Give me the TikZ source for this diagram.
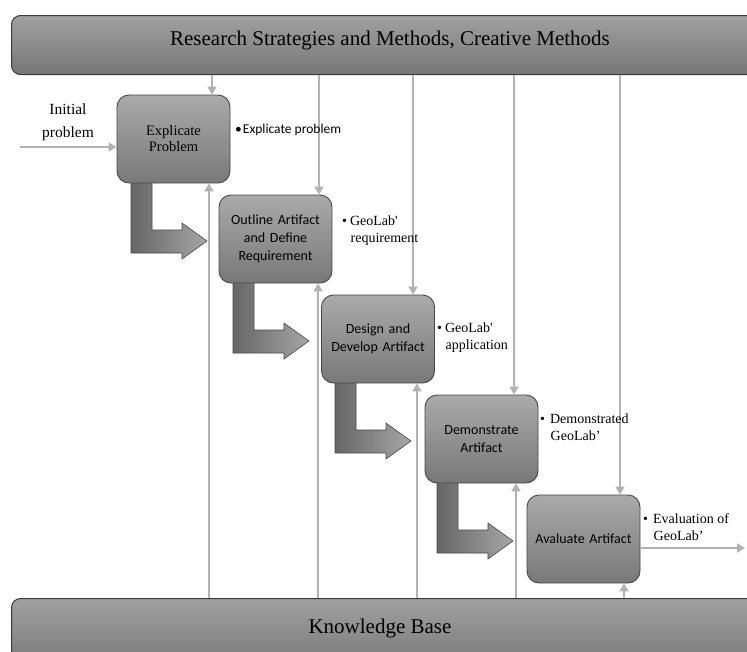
\documentclass[tikz,border=0pt]{standalone}
\usepackage{fontspec}
\setmainfont{Liberation Serif}
\newfontfamily\carlito{Carlito}
\usetikzlibrary{arrows.meta}
\definecolor{boxtop}{HTML}{AAAAAA}
\definecolor{boxbot}{HTML}{787878}
\definecolor{boxline}{HTML}{474747}
\definecolor{bartop}{HTML}{A0A0A0}
\definecolor{barbot}{HTML}{777777}
\definecolor{barline}{HTML}{3A3A3A}
\definecolor{linegray}{HTML}{B2B2B2}
\definecolor{arrL}{HTML}{666666}
\definecolor{arrR}{HTML}{A6A6A6}
\tikzset{
  conn/.style={draw=linegray, line width=2.8pt, -{Triangle[length=8pt,width=9pt]}},
  stepbox/.style={rectangle, rounded corners=12pt, draw=boxline, line width=0.9pt,
    top color=boxtop, bottom color=boxbot, minimum width=113pt, minimum height=88pt,
    inner sep=2pt, align=center, text width=108pt},
  sansbox/.style={font=\carlito\fontsize{14}{18}\selectfont},
  serifbox/.style={font=\fontsize{14.5}{16}\selectfont},
  bar/.style={rectangle, rounded corners=9pt, draw=barline, line width=1pt,
    top color=bartop, bottom color=barbot, inner sep=0pt, anchor=north west},
  bartext/.style={anchor=base, font=\fontsize{21}{24}\selectfont},
  note/.style={anchor=west, inner sep=0pt, align=left, font=\fontsize{14}{17}\selectfont},
  blockarrow/.style={left color=arrL, right color=arrR, draw=boxline, line width=0.6pt}
}
\begin{document}
\begin{tikzpicture}[x=1pt,y=-1pt]
\useasboundingbox (0,0) rectangle (747,651);
\clip (0,0) rectangle (747,651);

% bars
\node[bar, minimum width=760pt, minimum height=59pt] (top) at (11,15) {};
\node[bartext] (tt) at (390,45) {Research Strategies and Methods, Creative Methods};
\node[bar, minimum width=760pt, minimum height=72pt] (kb) at (11,598) {};
\node[bartext] (kt) at (380,633) {Knowledge Base};

% block arrows
\foreach \i in {0,1,2,3}{
  \begin{scope}[shift={(102*\i,100*\i)}]
    \path[blockarrow] (131,180) -- (152,180) -- (152,230) -- (182,230) -- (182,223)
      -- (207,241) -- (182,259) -- (182,253) -- (131,253) -- cycle;
  \end{scope}
}

% step boxes
\node[stepbox, serifbox] (b1) at (173.5,139) {Explicate\\Problem};
\node[stepbox, sansbox] (b2) at (275.5,239) {Outline Artifact\\and Define\\Requirement};
\node[stepbox, sansbox] (b3) at (378,339) {Design and\\Develop Artifact};
\node[stepbox, sansbox] (b4) at (481.5,439) {Demonstrate\\Artifact};
\node[stepbox, sansbox] (b5) at (583.5,539) {Avaluate Artifact};

% connectors from top bar
\coordinate (d1) at (212,0);
\coordinate (d2) at (319,0);
\coordinate (d3) at (413,0);
\coordinate (d4) at (514,0);
\coordinate (d5) at (620,0);
\draw[conn] (d1 |- top.south) -- (d1 |- b1.north);
\draw[conn] (d2 |- top.south) -- (d2 |- b2.north);
\draw[conn] (d3 |- top.south) -- (d3 |- b3.north);
\draw[conn] (d4 |- top.south) -- (d4 |- b4.north);
\draw[conn] (d5 |- top.south) -- (d5 |- b5.north);

% connectors from knowledge base
\coordinate (u1) at (209,0);
\coordinate (u2) at (318,0);
\coordinate (u3) at (417,0);
\coordinate (u4) at (516,0);
\coordinate (u5) at (624,0);
\draw[conn] (u1 |- kb.north) -- (u1 |- b1.south);
\draw[conn] (u2 |- kb.north) -- (u2 |- b2.south);
\draw[conn] (u3 |- kb.north) -- (u3 |- b3.south);
\draw[conn] (u4 |- kb.north) -- (u4 |- b4.south);
\draw[conn] (u5 |- kb.north) -- (u5 |- b5.south);

% input and output
\node[align=center, font=\fontsize{15.5}{23}\selectfont] (ini) at (68,122) {Initial\\problem};
\coordinate (in) at (20,147);
\draw[conn] (in) -- (in -| b1.west);
\coordinate (out) at (745,548);
\draw[conn] (b5.east |- out) -- (out);

% notes
\node[note, font=\carlito\fontsize{13.5}{16}\selectfont] (l1) at (235,130) {\textbullet\hspace{1pt}Explicate problem};
\node[note] (l2) at (342,231) {\textbullet\hspace{3pt}GeoLab\textquotesingle\\\hspace*{8.5pt}requirement};
\node[note] (l3) at (437,338) {\textbullet\hspace{3pt}GeoLab\textquotesingle\\\hspace*{8.5pt}application};
\node[note] (l4) at (540,427) {\textbullet\hspace{5pt}Demonstrated\\\hspace*{10.5pt}GeoLab’};
\node[note] (l5) at (643,527) {\textbullet\hspace{5pt}Evaluation of\\\hspace*{10.5pt}GeoLab’};
\end{tikzpicture}
\end{document}
